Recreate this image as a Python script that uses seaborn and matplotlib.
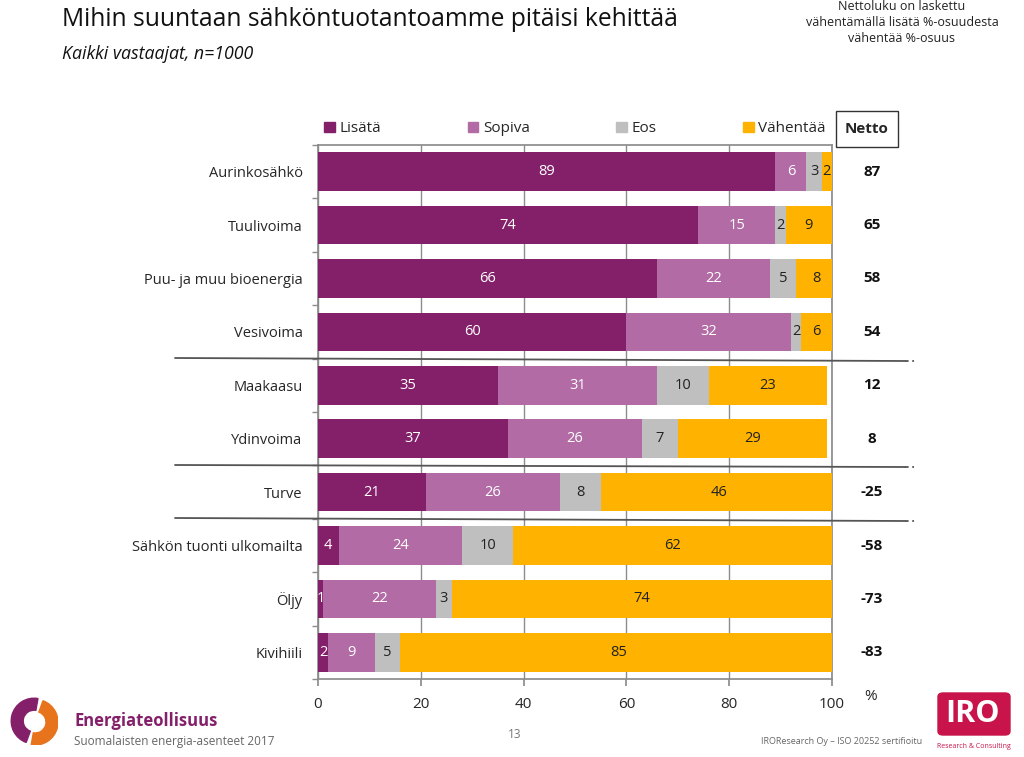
import matplotlib
matplotlib.use("Agg")
import matplotlib.pyplot as plt
import matplotlib.patches as mpatches
from matplotlib.lines import Line2D
import numpy as np
import pandas as pd
import seaborn as sns

# Data
categories = ['Aurinkosähkö', 'Tuulivoima', 'Puu- ja muu bioenergia', 'Vesivoima',
              'Maakaasu', 'Ydinvoima', 'Turve', 'Sähkön tuonti ulkomailta', 'Öljy', 'Kivihiili']
lisata = [89, 74, 66, 60, 35, 37, 21, 4, 1, 2]
sopiva = [6, 15, 22, 32, 31, 26, 26, 24, 22, 9]
eos = [3, 2, 5, 2, 10, 7, 8, 10, 3, 5]
vahentaa = [2, 9, 8, 6, 23, 29, 46, 62, 74, 85]
netto = [87, 65, 58, 54, 12, 8, -25, -58, -73, -83]
xticks = [0, 20, 40, 60, 80, 100]

series_names = ['Lisätä', 'Sopiva', 'Eos', 'Vähentää']
colors = ['#84206A', '#B26BA5', '#BFBFBF', '#FFB300']
text_colors = ['white', 'white', '#222222', '#222222']

df = pd.DataFrame({'cat': categories, 'Lisätä': lisata, 'Sopiva': sopiva,
                   'Eos': eos, 'Vähentää': vahentaa})
cum = df[series_names].cumsum(axis=1)

sns.set_theme(style='white')
plt.rcParams['font.family'] = ['Open Sans', 'DejaVu Sans']

W, H = 1024, 757
fig = plt.figure(figsize=(W / 100, H / 100), dpi=100)


def fx(px):
    return px / W


def fy(py):
    return 1 - py / H


ax = fig.add_axes([fx(318), fy(679), fx(832) - fx(318), fy(145) - fy(679)])

# stacked bars: draw cumulative totals from the largest down
for i in range(3, -1, -1):
    sns.barplot(x=cum[series_names[i]], y=df['cat'], orient='h', color=colors[i],
                width=0.72, saturation=1, ax=ax, label=series_names[i], zorder=3,
                linewidth=0, edgecolor='none')

# value labels inside segments
for r in range(len(categories)):
    left = 0
    for i, name in enumerate(series_names):
        v = df[name].iloc[r]
        ax.text(left + v / 2, r, str(v), ha='center', va='center',
                color=text_colors[i], fontsize=10.5, zorder=5)
        left += v

ax.set_xlim(0, 100)
ax.set_ylim(len(categories) - 0.5, -0.5)
ax.set_xticks(xticks)
ax.set_xlabel('')
ax.set_ylabel('')
ax.grid(axis='x', color='#8C8C8C', linewidth=1, zorder=0)
for s in ax.spines.values():
    s.set_color('#8C8C8C')
ax.tick_params(axis='x', length=5, color='#8C8C8C', labelsize=11, pad=8, direction='out', bottom=True)
ax.tick_params(axis='y', length=0, labelsize=10.5, pad=11)
ax.set_yticks(np.arange(-0.5, len(categories), 1), minor=True)
ax.tick_params(axis='y', which='minor', length=4, color='#8C8C8C', left=True)

# legend
handles = [mpatches.Patch(color=c, label=n) for n, c in zip(series_names, colors)]
ax.legend(handles=handles, ncol=4, loc='lower left', bbox_to_anchor=(0, 1.005, 1, 0.06),
          mode='expand', frameon=False, fontsize=11, handlelength=0.7, handleheight=0.7,
          handletextpad=0.3, borderaxespad=0)

# Netto column
fig.add_artist(mpatches.Rectangle((fx(836), fy(147)), fx(898) - fx(836), fy(111) - fy(147),
                                  transform=fig.transFigure, facecolor='white',
                                  edgecolor='#333333', linewidth=1))
fig.text(fx(867), fy(129), 'Netto', ha='center', va='center', fontsize=11, fontweight='bold')
for r, n in enumerate(netto):
    ax.text(1.078, r, str(n), transform=ax.get_yaxis_transform(), ha='center', va='center',
            fontsize=11, fontweight='bold', color='#111111')

fig.text(fx(871), fy(697), '%', ha='center', va='center', fontsize=11)

# separator lines between groups
for y0, y1 in [(358, 361), (465, 467), (518, 521)]:
    fig.add_artist(Line2D([fx(175), fx(905)], [fy(y0), fy(y1)], color='#555555',
                          linewidth=1.3, transform=fig.transFigure))
    fig.add_artist(Line2D([fx(905), fx(914)], [fy(y1), fy(y1)], color='#555555',
                          linewidth=1.3, linestyle=(0, (2, 2)), transform=fig.transFigure))

# titles
fig.text(fx(62), fy(20), 'Mihin suuntaan sähköntuotantoamme pitäisi kehittää',
         ha='left', va='center', fontsize=17.7, color='#111111')
fig.text(fx(62), fy(54), 'Kaikki vastaajat, n=1000', ha='left', va='center',
         fontsize=12.8, style='italic', color='#111111')
fig.text(fx(902), fy(22), 'Nettoluku on laskettu\nvähentämällä lisätä %-osuudesta\nvähentää %-osuus',
         ha='center', va='center', fontsize=9, color='#222222', linespacing=1.3)

# footer
lax = fig.add_axes([fx(10), fy(745), fx(58) - fx(10), fy(697) - fy(745)])
lax.set_aspect('equal')
lax.set_xlim(-1, 1)
lax.set_ylim(-1, 1)
lax.axis('off')
lax.add_patch(mpatches.Wedge((0, 0), 0.95, 80, 250, width=0.5, color='#84206A'))
lax.add_patch(mpatches.Wedge((0.05, -0.05), 0.95, 260, 430, width=0.5, color='#E8731D'))
fig.text(fx(74), fy(721), 'Energiateollisuus', ha='left', va='center', fontsize=12,
         fontweight='bold', color='#84206A')
fig.text(fx(74), fy(741), 'Suomalaisten energia-asenteet 2017', ha='left', va='center',
         fontsize=8.5, color='#666666')
fig.text(fx(515), fy(735), '13', ha='center', va='center', fontsize=8.5, color='#777777')
fig.text(fx(842), fy(742), 'IROResearch Oy – ISO 20252 sertifioitu', ha='center', va='center',
         fontsize=6.5, color='#666666')
fig.add_artist(mpatches.FancyBboxPatch((fx(938), fy(735)), fx(1010) - fx(938), fy(693) - fy(735),
                                       boxstyle='round,pad=0,rounding_size=0.005',
                                       transform=fig.transFigure, color='#C8144B'))
fig.text(fx(972), fy(714), 'IRO', ha='center', va='center', fontsize=22, fontweight='bold',
         color='white')
fig.text(fx(974), fy(746), 'Research & Consulting', ha='center', va='center', fontsize=5,
         color='#C8144B')

fig.savefig('out.png', dpi=100)
